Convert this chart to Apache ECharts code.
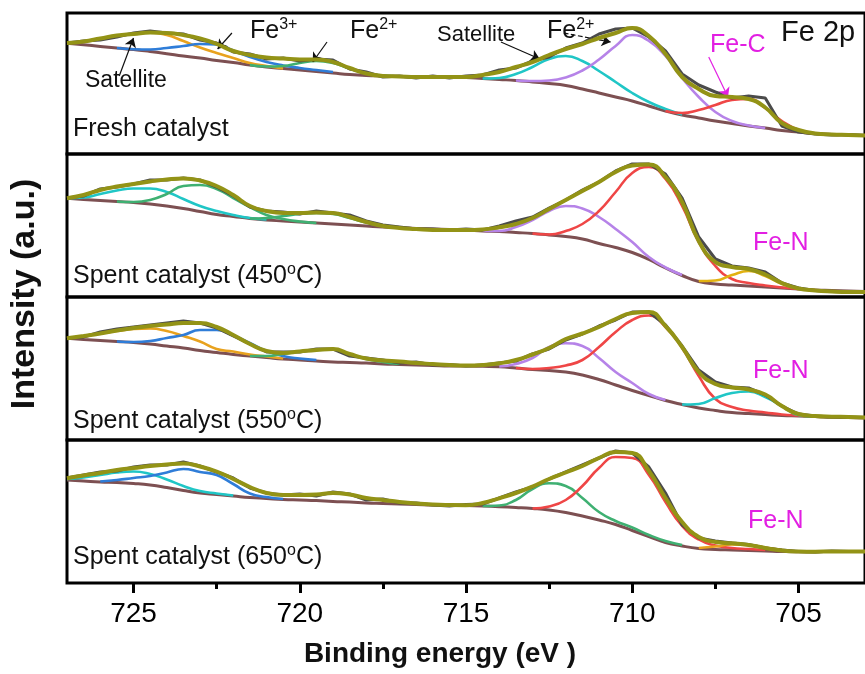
<!DOCTYPE html>
<html><head><meta charset="utf-8">
<script src="https://cdn.jsdelivr.net/npm/echarts@6/dist/echarts.min.js"></script>
<style>html,body{margin:0;padding:0;background:#fff}#c{width:865px;height:674px}</style>
</head><body><div id="c"></div>
<script>
// Binding energy grid (eV), 0.5 eV steps
const energy = [727,726.5,726,725.5,725,724.5,724,723.5,723,722.5,722,721.5,721,720.5,720,719.5,719,718.5,718,717.5,717,716.5,716,715.5,715,714.5,714,713.5,713,712.5,712,711.5,711,710.5,710,709.5,709,708.5,708,707.5,707,706.5,706,705.5,705,704.5,704,703.5,703];
const majorTicks = [705,710,715,720,725];
const minorTicks = [707.5,712.5,717.5,722.5];

// ---- Fresh catalyst ----
const fresh_raw = [111,113,114,117,121,123,121,120,114,111,102,100,95,96,93,95,94,85,82,77,78,76,78,76,78,79,84,86,93,97,106,111,120,125,126,117,103,80,69,62,56,58,56,28,22,20,19,19.5,18.5];
const fresh_env = [111,112.5,115.5,118.5,120,121.5,121,119,115.5,110,103,99,96.5,95.5,94.5,94.5,92,86,80.5,78,77.5,77,77,77,77,79,82,87,92,99,105,110,116,121,126,118,100,77,65,58,57,55,46.5,31,24,20.5,19.5,19,18.5];
const fresh_bg = [110.7,109.2,107.6,106,104.5,102.5,100.3,98,96,93.5,91.5,89,87,85.5,84,82.5,81,79.5,78.5,78,77.5,77,77,76.7,76.5,75.5,74.5,73.5,72,70.5,68.5,65,61,57,53,48,43,39,36,33,30.5,28,26,23.5,22,20.5,19.5,19,18.5];
const fresh_sat1 = [110.7,112.5,115,118,120,121.5,119,113,106.5,101,96,91,88,85.5];          // from 727
const fresh_fe3 = [106,104.8,104.5,106,108,110,109.5,103.5,97,92,88.5,86,84,82];             // from 725.5
const fresh_fe2a = [89,87.5,88,91,93,91,85.5,80.5,78.5,77.5];                                 // from 721.5
const fresh_sat2 = [75.5,76,80,87,95,98,93,83,72,61,52,45,39.5];                              // from 714.5
const fresh_fe2b = [73.5,73,73.5,76.5,83.5,94.5,108,119,113,98,76,57,42,33,28.5,26];          // from 713.5
const fresh_fec = [43,41,44,49,54,55,46,33,24,20.5];                                          // from 709

// ---- Spent 450 ----
const s450_raw = [99,101,108,110,113,117,117,119,117,110,101,90,86,85,83,86,84,82,76,72,70,68,68,67,68,67,71,76,80,89,97,107,115,126,133,133,123,99,60,38,31,29,25,14,9,6.5,5.5,5,5];
const s450_env = [98.7,102,107,110.5,113,115.5,117.5,118.5,116.5,111,102,91,86,84,84,84.5,84,80,75,71,69,68,67,67,67,67.5,69.7,73,79,88,97,106,115,125,131.5,132.5,120,95,56,35,30,28,22.5,14,8.5,6.5,5.5,5,5];
const s450_bg = [98.7,97.5,96.5,95.5,94.5,93,91,88.5,85.5,82.5,80.5,78.5,77,76,75,74,73,72,71,70,69.5,68.5,68,67.5,67,66,65.5,64.5,63.5,62,60.5,58,53.5,49.5,44.5,37.5,29,21.5,15.5,13,12,11,10,9,8,7,6.5,6,5.5];
const s450_sat1 = [98.7,99.5,103,106.5,108.5,108.5,105,98,91,86,82,79,77.5];                  // from 727
const s450_fe3 = [95.5,95,97,103,111,112,108,99,90,82,78,75.5,74];                            // from 725.5
const s450_fe2a = [78.5,79,81,83,84,83,79,74.5,71,69.5];                                      // from 721.5
const s450_sat2 = [66,66,70,77,86,91,88.5,80,68,55,40,29.5,22];                               // from 714.5
const s450_fe2b = [63.5,62.5,66,73,86,105,124,130,118,91,55,31,18,14,11.5,9.5,8];             // from 713
const s450_fen = [16,16.5,22,26,21,13,8.5,7];                                                 // from 708

// ---- Spent 550 ----
const s550_raw = [102,103,108,111,113,115,117,119,117,112,104,96,88,88,88,91,91,84,82,80,77,78,75,75.5,74,75,77,79,86,91,100,106,114,120,128,128,115,94,70,58,53,52,45,34,26,24,23,23,22.5];
const s550_env = [101.7,104,106.5,109.5,112,114,115.5,117,117,113,105,96,89,87,88.5,90,91,86,81.5,79.5,78.5,77,76,75,74.5,75,76.7,80,85.5,92,101,106.5,113,121,127,128,114,93,68,56,52.5,50.5,45.5,34,26,24,23.3,23,22.5];
const s550_bg = [101.7,100.5,99.5,98.5,97.5,96,94,92,89.5,87.5,85.5,84,82.5,81,80,79,78,77.5,77,76,75.5,75,74.5,74,74,73.7,73.3,72,70.5,69.5,68,65,60.5,55,49.5,44.5,39.5,35.5,32,29.5,27.5,26.5,25.5,24.5,24,23.5,22.7,22.5,22];
const s550_sat1 = [101.7,104,106.5,109,111,111.5,109,104,98.5,91,88.5,85.5,83.5,81.5];         // from 727
const s550_fe3 = [98.5,98,99,102,105,110,110,104.5,97,89,84,81.5,80];                          // from 725.5
const s550_fe2a = [84,84,86,88.5,90,90.5,86,81,78,76];                                          // from 721.5
const s550_sat2 = [73.5,76,82,93,96.7,94,82,68,57,46,40];                                       // from 714
const s550_fe2b = [72,71,72,74.5,80,93,108,120,124.5,113,92,64,41,33,29.5,27.5,25.5,24.5,23.8]; // from 713.5
const s550_fen = [35.5,36,42,47,48.5,43,34,25,23.5];                                            // from 708.5

// ---- Spent 650 ----
const s650_raw = [105,108,111,112,116,118,118,121,117,111,105,95,90,88,89,87,91,89,83,84,80,80,78,77,78.5,79,85,91,96,104,111,118,125,132,130,116,90,58,45,42,40,38.5,35,33,31.5,31,32,31.5,31.5];
const s650_env = [104.7,107.5,110,113,115,117,118.5,119.5,116.5,111.5,104,96,90,88,88,88.5,90,88.5,85,83,81,79.5,78.5,78,77.8,80,84.7,90,96.5,104,110.5,117,125,131,130,112,85,61,46,41,39.7,38,35,32.5,31.5,31.3,31.5,31.5,31.5];
const s650_bg = [103,102,101,100.5,99.5,98,95.5,92.5,90,88.5,87,85.5,84.5,83.5,83,82.5,81.5,81,80,79.5,79,78.5,78,78,77.5,77,76.3,75.5,74.5,73,70.5,67,63,58.5,52.5,46.5,40.5,37,34.5,33.5,33,32.5,32,31.5,31.3,31.3,31.5,31.5,31.5];
const s650_sat1 = [104,105.5,108,110.5,111.5,109,103.5,97,92,89.5,87.5];                        // from 727
const s650_fe3 = [101.5,103,105,107,110.5,114,111,108,99,89.5,86,84];                           // from 726
const s650_sat2 = [77,77.5,83,94,99.7,97,85,71,62,55.5,48,42,38];                               // from 714.5
const s650_fe2 = [74.5,76.5,83,97,115,126,125,108,81,57,43.5,37.5,35,34,33];                    // from 713
const s650_fen = [35,36.5,38.5,38,35.5,33,31.5];                                                // from 708

// annotation arrows in panel 1 (energy, intensity)
const arrowFrom = [[725.43,78],[722.04,121],[719.18,112],[713.95,112],[712.06,121],[707.70,97]];
const arrowTo   = [[725.0,116],[722.47,105],[719.61,92],[712.78,95],[710.65,112],[707.12,57]];

// ---------------------------------------------------------------
const C = {raw:'#4b4b4b', env:'#939316', bg:'#7d5052', orange:'#e8a21e', blue:'#2f7dd8',
  green:'#3fb072', cyan:'#20c6c6', purple:'#b683e8', red:'#ef4646', gold:'#e2b212', mag:'#e21fe2'};
const FONT = "'Liberation Sans', Arial, Helvetica, sans-serif";

function seg(values, from){ const i0 = energy.indexOf(from); return values.map((v,k)=>[energy[i0+k], v]); }

const panels = [
  {raw:fresh_raw, env:fresh_env, bg:fresh_bg, comps:[[fresh_sat1,727,C.orange],[fresh_fe3,725.5,C.blue],[fresh_fe2a,721.5,C.green],[fresh_sat2,714.5,C.cyan],[fresh_fe2b,713.5,C.purple],[fresh_fec,709,C.red]]},
  {raw:s450_raw, env:s450_env, bg:s450_bg, comps:[[s450_sat1,727,C.cyan],[s450_fe3,725.5,C.green],[s450_fe2a,721.5,C.green],[s450_sat2,714.5,C.purple],[s450_fe2b,713,C.red],[s450_fen,708,C.gold]]},
  {raw:s550_raw, env:s550_env, bg:s550_bg, comps:[[s550_sat1,727,C.orange],[s550_fe3,725.5,C.blue],[s550_fe2a,721.5,C.green],[s550_sat2,714,C.purple],[s550_fe2b,713.5,C.red],[s550_fen,708.5,C.cyan]]},
  {raw:s650_raw, env:s650_env, bg:s650_bg, comps:[[s650_sat1,727,C.cyan],[s650_fe3,726,C.blue],[s650_sat2,714.5,C.green],[s650_fe2,713,C.red],[s650_fen,708,C.orange]]}
];
const tops = [13,154,297,440], heights = [141,143,143,143];
const gLeft = 67, gWidth = 836.4;

const grid = [], xAxis = [], yAxis = [], series = [];
panels.forEach((p,i)=>{
  grid.push({left:gLeft, top:tops[i], width:gWidth, height:heights[i], show:true, borderColor:'#000', borderWidth:3, backgroundColor:'transparent'});
  const last = i === 3;
  xAxis.push({type:'value', gridIndex:i, min:703, max:727, inverse:true,
    axisLine:{show:false}, splitLine:{show:false},
    axisTick:{show:last, inside:false, length:10, lineStyle:{color:'#000', width:3}, customValues: majorTicks},
    axisLabel:{show:last, customValues: majorTicks, fontSize:28, color:'#000', fontFamily:FONT, margin:17}});
  yAxis.push({type:'value', gridIndex:i, min:0, max:heights[i], show:false});
  series.push({type:'line', xAxisIndex:i, yAxisIndex:i, data:seg(p.bg,727), smooth:true, symbol:'none',
    lineStyle:{color:C.bg, width:3}, z:2,
    markLine: i===0 ? {silent:true, symbol:['none','arrow'], symbolSize:9, animation:false, label:{show:false},
      data: arrowFrom.map((a,k)=>[{coord:a, lineStyle:{color: k===5?C.mag:'#111', width:1.2, type: k===4?'dashed':'solid'}},{coord:arrowTo[k]}])} : undefined});
  p.comps.forEach(c=>{
    series.push({type:'line', xAxisIndex:i, yAxisIndex:i, data:seg(c[0],c[1]), smooth:true, symbol:'none',
      lineStyle:{color:c[2], width:2.6}, z:3});
  });
  series.push({type:'line', xAxisIndex:i, yAxisIndex:i, data:seg(p.raw,727), smooth:false, symbol:'none',
    lineStyle:{color:C.raw, width:3}, z:4});
  series.push({type:'line', xAxisIndex:i, yAxisIndex:i, data:seg(p.env,727), smooth:true, symbol:'none',
    lineStyle:{color:C.env, width:4}, z:5});
});
// minor ticks on bottom axis
xAxis.push({type:'value', gridIndex:3, min:703, max:727, inverse:true, position:'bottom',
  axisLine:{show:false}, splitLine:{show:false}, axisLabel:{show:false},
  axisTick:{show:true, length:6, lineStyle:{color:'#000', width:3}, customValues: minorTicks}});

function txt(x, y, text, size, color){
  return {type:'text', x:x, y:y, z:50, style:{text:text, fontSize:size, fontFamily:FONT, fill:color||'#111',
    textAlign:'left', textVerticalAlign:'middle', align:'left', verticalAlign:'middle'}};
}
const supRich = (size)=>({a:{fontSize:size, fontFamily:FONT, fill:'#111', color:'#111', lineHeight:size+3},
  s:{fontSize:Math.round(size*0.62), fontFamily:FONT, fill:'#111', color:'#111', verticalAlign:'top', lineHeight:size+3}});

const graphic = [
  txt(73,129,'Fresh catalyst',25),
  txt(73,276,'{a|Spent catalyst (450}{s|o}{a|C)}',25),
  txt(73,421,'{a|Spent catalyst (550}{s|o}{a|C)}',25),
  txt(73,557,'{a|Spent catalyst (650}{s|o}{a|C)}',25),
  txt(250,31,'{a|Fe}{s|3+}',25),
  txt(350,31,'{a|Fe}{s|2+}',25),
  txt(85,81,'Satellite',23),
  txt(437,35,'Satellite',22),
  txt(547,31,'{a|Fe}{s|2+}',25),
  txt(710,45,'Fe-C',25,C.mag),
  txt(781,33,'Fe 2p',29),
  txt(753,243,'Fe-N',25,C.mag),
  txt(753,371,'Fe-N',25,C.mag),
  txt(748,521,'Fe-N',25,C.mag),
  {type:'text', x:440, y:654, z:50, style:{text:'Binding energy (eV )', fontSize:28, fontWeight:'bold', fontFamily:FONT, fill:'#111',
    textAlign:'center', textVerticalAlign:'middle', align:'center', verticalAlign:'middle'}},
  {type:'text', x:25, y:294, rotation:Math.PI/2, z:50, style:{text:'Intensity (a.u.)', fontSize:34, fontWeight:'bold', fontFamily:FONT, fill:'#111',
    textAlign:'center', textVerticalAlign:'middle', align:'center', verticalAlign:'middle'}}
];
graphic.forEach(g=>{ if (g.style && g.style.text && g.style.text.indexOf('{a|')===0) g.style.rich = supRich(g.style.fontSize); });

const chart = echarts.init(document.getElementById('c'), null, {renderer:'canvas'});
chart.setOption({animation:false, backgroundColor:'#fff', grid, xAxis, yAxis, series, graphic});
</script></body></html>
